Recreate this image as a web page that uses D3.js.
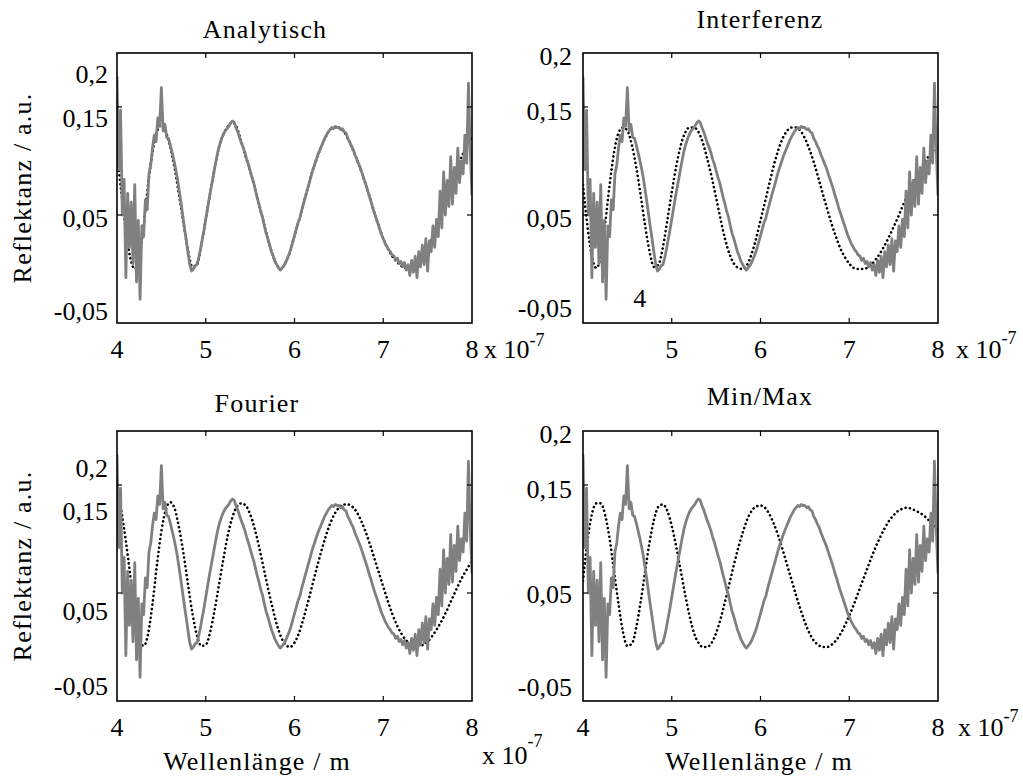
<!DOCTYPE html>
<html>
<head>
<meta charset="utf-8">
<script src="https://cdn.jsdelivr.net/npm/d3@7"></script>
<style>
body { margin: 0; background: #fff; }
text { font-family: "Liberation Serif", "Times New Roman", serif; font-size: 26px; fill: #000; }
.wide { letter-spacing: 1.2px; }
</style>
</head>
<body>
<svg width="1023" height="781"></svg>
<script>
// wavelength in units of 1e-7 m
// measured reflectance, sampled every 0.02 from 4.00 to 8.00
const measured = [
  0.178, 0.092, 0.147, 0.050, 0.083, -0.008, 0.070, 0.020, 0.062, 0.005,
  0.078, -0.012, 0.045, -0.028, 0.040, 0.030, 0.064, 0.055, 0.088, 0.096,
  0.112, 0.124, 0.118, 0.140, 0.132, 0.168, 0.128, 0.134, 0.122, 0.121,
  0.115, 0.108, 0.101, 0.093, 0.084, 0.073, 0.062, 0.050, 0.038, 0.027,
  0.015, 0.004, -0.002, 0.000, 0.003, 0.004, 0.010, 0.018, 0.027, 0.036,
  0.046, 0.056, 0.066, 0.075, 0.084, 0.093, 0.102, 0.110, 0.116, 0.121,
  0.125, 0.128, 0.130, 0.132, 0.135, 0.137, 0.136, 0.131, 0.127, 0.122,
  0.117, 0.113, 0.108, 0.102, 0.097, 0.091, 0.085, 0.080, 0.073, 0.066,
  0.060, 0.053, 0.048, 0.040, 0.033, 0.028, 0.022, 0.016, 0.012, 0.007,
  0.004, 0.001, -0.001, 0.001, 0.003, 0.006, 0.010, 0.014, 0.019, 0.025,
  0.031, 0.037, 0.043, 0.047, 0.054, 0.060, 0.066, 0.072, 0.078, 0.084,
  0.090, 0.095, 0.100, 0.105, 0.109, 0.113, 0.117, 0.121, 0.124, 0.127,
  0.129, 0.131, 0.130, 0.132, 0.131, 0.131, 0.129, 0.130, 0.127, 0.126,
  0.121, 0.118, 0.114, 0.111, 0.106, 0.102, 0.098, 0.094, 0.089, 0.084,
  0.079, 0.074, 0.068, 0.063, 0.057, 0.052, 0.047, 0.042, 0.037, 0.032,
  0.028, 0.024, 0.021, 0.018, 0.016, 0.013, 0.012, 0.008, 0.010, 0.005,
  0.007, 0.002, 0.006, -0.001, 0.004, -0.006, 0.008, -0.003, 0.012, -0.008,
  0.016, 0.002, 0.022, 0.004, 0.028, -0.002, 0.026, 0.016, 0.040, 0.020,
  0.046, 0.030, 0.072, 0.038, 0.090, 0.050, 0.082, 0.058, 0.104, 0.060,
  0.094, 0.070, 0.112, 0.080, 0.100, 0.088, 0.124, 0.098, 0.172, 0.110,
  0.068
]

// fitted curves, sampled every 0.05 from 4.00 to 8.00
const fitAnalytisch = [
  0.107, 0.070, 0.036, 0.010, 0.000, 0.010, 0.040, 0.078, 0.108, 0.127,
  0.133, 0.127, 0.113, 0.093, 0.068, 0.042, 0.017, 0.002, 0.004, 0.022,
  0.046, 0.070, 0.093, 0.113, 0.125, 0.132, 0.136, 0.131, 0.118, 0.104,
  0.091, 0.076, 0.060, 0.044, 0.028, 0.014, 0.004, 0.000, 0.006, 0.016,
  0.031, 0.045, 0.060, 0.075, 0.090, 0.102, 0.113, 0.122, 0.129, 0.131,
  0.131, 0.128, 0.121, 0.112, 0.102, 0.091, 0.079, 0.066, 0.052, 0.040,
  0.028, 0.019, 0.012, 0.007, 0.003, 0.001, 0.001, 0.003, 0.007, 0.013,
  0.020, 0.029, 0.039, 0.050, 0.062, 0.074, 0.086, 0.097, 0.107, 0.115,
  0.121
]
const fitInterferenz = [
  0.078, 0.040, 0.012, 0.001, 0.012, 0.042, 0.078, 0.108, 0.126, 0.131,
  0.128, 0.115, 0.094, 0.068, 0.040, 0.016, 0.002, 0.004, 0.020, 0.045,
  0.071, 0.095, 0.114, 0.126, 0.131, 0.131, 0.127, 0.117, 0.102, 0.085,
  0.066, 0.046, 0.028, 0.014, 0.005, 0.001, 0.000, 0.004, 0.014, 0.028,
  0.045, 0.062, 0.079, 0.096, 0.110, 0.121, 0.128, 0.131, 0.131, 0.128,
  0.121, 0.111, 0.099, 0.085, 0.070, 0.056, 0.042, 0.030, 0.019, 0.011,
  0.005, 0.001, 0.000, 0.000, 0.001, 0.004, 0.009, 0.015, 0.022, 0.030,
  0.039, 0.048, 0.058, 0.067, 0.076, 0.084, 0.092, 0.099, 0.105, 0.110,
  0.114
]
const fitFourier = [
  0.150, 0.126, 0.098, 0.066, 0.034, 0.008, 0.001, 0.012, 0.040, 0.076,
  0.107, 0.127, 0.134, 0.128, 0.110, 0.086, 0.058, 0.031, 0.011, 0.001,
  0.002, 0.014, 0.034, 0.058, 0.082, 0.104, 0.120, 0.130, 0.133, 0.131,
  0.123, 0.110, 0.093, 0.074, 0.055, 0.037, 0.021, 0.009, 0.002, 0.000,
  0.004, 0.013, 0.026, 0.041, 0.057, 0.073, 0.088, 0.102, 0.114, 0.123,
  0.129, 0.132, 0.132, 0.130, 0.125, 0.117, 0.107, 0.095, 0.082, 0.069,
  0.056, 0.043, 0.031, 0.021, 0.013, 0.007, 0.003, 0.001, 0.001, 0.002,
  0.005, 0.010, 0.016, 0.023, 0.031, 0.040, 0.049, 0.058, 0.066, 0.073,
  0.080
]
const fitMinMax = [
  0.061, 0.098, 0.123, 0.133, 0.133, 0.122, 0.100, 0.070, 0.040, 0.014,
  0.001, 0.003, 0.018, 0.042, 0.070, 0.097, 0.118, 0.130, 0.132, 0.126,
  0.112, 0.093, 0.071, 0.049, 0.029, 0.013, 0.004, 0.000, 0.000, 0.004,
  0.013, 0.026, 0.042, 0.059, 0.076, 0.092, 0.106, 0.118, 0.126, 0.130,
  0.131, 0.129, 0.123, 0.114, 0.103, 0.090, 0.076, 0.062, 0.048, 0.035,
  0.023, 0.013, 0.006, 0.002, 0.000, 0.000, 0.002, 0.006, 0.012, 0.020,
  0.029, 0.039, 0.050, 0.061, 0.072, 0.083, 0.093, 0.102, 0.110, 0.117,
  0.122, 0.126, 0.128, 0.129, 0.128, 0.126, 0.124, 0.121, 0.117, 0.113,
  0.108
]

const xTicks = [4, 5, 6, 7, 8]
const xTickLabels = ['4', '5', '6', '7', '8']
const yTicks = [0.2, 0.15, 0.05, -0.05]
const yTickLabels = ['0,2', '0,15', '0,05', '-0,05']

const measuredX = d3.range(measured.length).map(i => 4 + i * 0.02)
const fitX = d3.range(fitAnalytisch.length).map(i => 4 + i * 0.05)

const svg = d3.select('svg')
const w = 355, h = 270

const panels = [
  { title: 'Analytisch', fit: fitAnalytisch, left: 117, top: 53, titleX: 265, titleY: 38,
    yDy: [30, 20, 12, -3], yDx: -9, xLab: [0, 1, 2, 3, 4], expo: [12, 35, -12], ylab: true },
  { title: 'Interferenz', fit: fitInterferenz, left: 583, top: 53, titleX: 760, titleY: 28,
    yDy: [12, 13, 12, -6], yDx: -11, xLab: [1, 2, 3, 4], expo: [18, 35, -14], four: true },
  { title: 'Fourier', fit: fitFourier, left: 117, top: 431, titleX: 257, titleY: 412,
    yDy: [46, 35, 27, -6], yDx: -9, xLab: [0, 1, 2, 3, 4], expo: [10, 63, -17], ylab: true, xlab: 257 },
  { title: 'Min/Max', fit: fitMinMax, left: 583, top: 431, titleX: 760, titleY: 405,
    yDy: [12, 13, 10, -5], yDx: -11, xLab: [0, 1, 2, 3, 4], expo: [20, 35, -14], xlab: 759 }
]

panels.forEach((p, pi) => {
  const x = d3.scaleLinear().domain([4, 8]).range([p.left, p.left + w])
  const y = d3.scaleLinear().domain([-0.05, 0.2]).range([p.top + h, p.top])

  const g = svg.append('g')

  g.append('clipPath').attr('id', 'clip' + pi)
    .append('rect').attr('x', p.left).attr('y', p.top).attr('width', w).attr('height', h)

  const plot = g.append('g').attr('clip-path', `url(#clip${pi})`)

  const fitLine = d3.line().x((d, i) => x(fitX[i])).y(d => y(d)).curve(d3.curveMonotoneX)
  plot.append('path')
    .attr('d', fitLine(p.fit))
    .attr('fill', 'none')
    .attr('stroke', '#000')
    .attr('stroke-width', 2.6)
    .attr('stroke-linecap', 'round')
    .attr('stroke-dasharray', '0.1,4.3')

  const measLine = d3.line().x((d, i) => x(measuredX[i])).y(d => y(d))
  plot.append('path')
    .attr('d', measLine(measured))
    .attr('fill', 'none')
    .attr('stroke', '#808080')
    .attr('stroke-width', 2.8)
    .attr('stroke-linejoin', 'round')

  // frame
  g.append('rect')
    .attr('x', p.left).attr('y', p.top).attr('width', w).attr('height', h)
    .attr('fill', 'none').attr('stroke', '#000').attr('stroke-width', 1.6)

  // inner ticks
  const tk = 5
  ;[5, 6, 7].forEach(v => {
    g.append('line').attr('x1', x(v)).attr('x2', x(v)).attr('y1', p.top + h).attr('y2', p.top + h - tk)
      .attr('stroke', '#000').attr('stroke-width', 1.2)
    g.append('line').attr('x1', x(v)).attr('x2', x(v)).attr('y1', p.top).attr('y2', p.top + tk)
      .attr('stroke', '#000').attr('stroke-width', 1.2)
  })
  ;[0.15, 0.05].forEach(v => {
    g.append('line').attr('x1', p.left).attr('x2', p.left + tk).attr('y1', y(v)).attr('y2', y(v))
      .attr('stroke', '#000').attr('stroke-width', 1.2)
    g.append('line').attr('x1', p.left + w).attr('x2', p.left + w - tk).attr('y1', y(v)).attr('y2', y(v))
      .attr('stroke', '#000').attr('stroke-width', 1.2)
  })

  // y tick labels
  yTicks.forEach((v, i) => {
    g.append('text')
      .attr('x', p.left + p.yDx)
      .attr('y', y(v) + p.yDy[i])
      .attr('text-anchor', 'end')
      .text(yTickLabels[i])
  })

  // x tick labels
  p.xLab.forEach(i => {
    g.append('text')
      .attr('x', x(xTicks[i]))
      .attr('y', p.top + h + 35)
      .attr('text-anchor', 'middle')
      .text(xTickLabels[i])
  })
  if (p.four) {
    g.append('text').attr('x', x(4.64)).attr('y', y(-0.035)).attr('text-anchor', 'middle').text('4')
  }

  // exponent
  const ex = g.append('text')
    .attr('x', x(8) + p.expo[0])
    .attr('y', p.top + h + p.expo[1])
  ex.append('tspan').text('x 10')
  ex.append('tspan').attr('dy', p.expo[2]).style('font-size', '18px').text('-7')

  // title
  g.append('text').attr('class', 'wide')
    .attr('x', p.titleX).attr('y', p.titleY).attr('text-anchor', 'middle').text(p.title)

  if (p.ylab) {
    g.append('text').attr('class', 'wide')
      .attr('transform', `translate(31, ${p.top + h / 2 - 0})rotate(-90)`)
      .attr('text-anchor', 'middle')
      .text('Reflektanz / a.u.')
  }
  if (p.xlab) {
    g.append('text').attr('class', 'wide')
      .attr('x', p.xlab).attr('y', 770).attr('text-anchor', 'middle').text('Wellenlänge / m')
  }
})
</script>
</body>
</html>
